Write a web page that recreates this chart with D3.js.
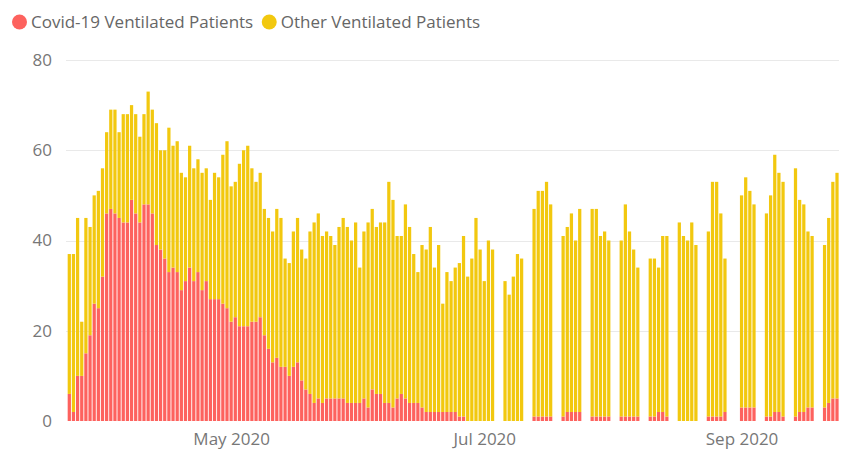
<!DOCTYPE html>
<html>
<head>
<meta charset="utf-8">
<script src="https://cdn.jsdelivr.net/npm/d3@7"></script>
<style>
  html, body { margin: 0; padding: 0; background: #ffffff; }
  svg { display: block; font-family: "Open Sans", "Noto Sans", sans-serif; }
</style>
</head>
<body>
<svg id="chart" width="850" height="450"></svg>
<script>
// Reporting periods (inclusive). Daily through early July, weekdays afterwards.
const reportingPeriods = [
  ["2020-03-23", "2020-07-03"],
  ["2020-07-06", "2020-07-10"],
  ["2020-07-13", "2020-07-17"],
  ["2020-07-20", "2020-07-24"],
  ["2020-07-27", "2020-07-31"],
  ["2020-08-03", "2020-08-07"],
  ["2020-08-10", "2020-08-14"],
  ["2020-08-17", "2020-08-21"],
  ["2020-08-24", "2020-08-28"],
  ["2020-09-01", "2020-09-04"],
  ["2020-09-07", "2020-09-11"],
  ["2020-09-14", "2020-09-18"],
  ["2020-09-21", "2020-09-24"]
];

// Covid-19 ventilated patients, one value per reporting day
const covidVentilated = [
  6, 2, 10, 10, 15, 19, 26, 25, 32, 46,
  47, 46, 45, 44, 44, 49, 46, 44, 48, 48,
  46, 39, 38, 36, 33, 34, 33, 29, 31, 34,
  31, 33, 29, 31, 27, 27, 27, 26, 25, 22,
  23, 21, 21, 21, 22, 22, 23, 19, 16, 13,
  14, 12, 12, 10, 12, 13, 9, 7, 6, 4,
  5, 4, 5, 5, 5, 5, 5, 4, 4, 4,
  4, 5, 3, 7, 6, 6, 4, 4, 3, 5,
  6, 5, 4, 4, 4, 3, 2, 2, 2, 2,
  2, 2, 2, 2, 1, 1, 0, 0, 0, 0,
  0, 0, 0,
  0, 0, 0, 0, 0,
  1, 1, 1, 1, 1,
  1, 2, 2, 2, 2,
  1, 1, 1, 1, 1,
  1, 1, 1, 1, 1,
  1, 1, 2, 2, 1,
  0, 0, 0, 0, 0,
  1, 1, 1, 1, 2,
  3, 3, 3, 3,
  1, 1, 2, 2, 1,
  1, 2, 2, 3, 3,
  3, 4, 5, 5
];

// Other (non-Covid) ventilated patients, one value per reporting day
const otherVentilated = [
  31, 35, 35, 12, 30, 24, 24, 26, 24, 18,
  22, 23, 19, 24, 24, 21, 22, 19, 20, 25,
  23, 27, 22, 24, 32, 27, 29, 26, 23, 27,
  25, 25, 26, 25, 22, 28, 27, 33, 37, 30,
  30, 36, 39, 40, 34, 31, 32, 28, 29, 29,
  33, 33, 24, 25, 30, 32, 29, 29, 36, 40,
  41, 37, 37, 36, 34, 38, 40, 39, 36, 40,
  30, 37, 41, 40, 37, 38, 40, 49, 46, 36,
  35, 43, 39, 33, 29, 36, 36, 41, 32, 37,
  24, 31, 29, 32, 34, 40, 32, 36, 45, 38,
  31, 40, 38,
  31, 28, 32, 37, 36,
  46, 50, 50, 52, 47,
  40, 41, 44, 38, 45,
  46, 46, 40, 41, 39,
  39, 47, 41, 37, 33,
  35, 35, 32, 39, 40,
  44, 41, 40, 44, 39,
  41, 52, 52, 45, 34,
  47, 51, 48, 45,
  45, 49, 57, 53, 52,
  55, 47, 46, 39, 38,
  36, 41, 48, 50
];

const seriesNames = ["Covid-19 Ventilated Patients", "Other Ventilated Patients"];
const seriesColors = ["#FD625E", "#F2C80F"];
const yTicks = [0, 20, 40, 60, 80];
const monthTicks = ["2020-05-01", "2020-07-01", "2020-09-01"];
const axisRange = ["2020-03-22", "2020-09-25"];

// ---- build rows ----
const parse = s => new Date(s + "T00:00:00Z");
const reportDates = reportingPeriods.flatMap(([a, b]) =>
  d3.utcDay.range(parse(a), d3.utcDay.offset(parse(b), 1)));

const rows = reportDates.map((date, i) => ({
  date,
  covid: covidVentilated[i],
  other: otherVentilated[i]
}));

const stacked = d3.stack().keys(["covid", "other"])(rows);

// ---- layout ----
const svg = d3.select("#chart");
const plotLeft = 65.15, plotRight = 841.15;
const plotTop = 60, plotBottom = 421;
const labelFont = "17px";

const x = d3.scaleUtc()
  .domain(axisRange.map(parse))
  .range([plotLeft, plotRight]);

const y = d3.scaleLinear()
  .domain([0, 80])
  .range([plotBottom, plotTop]);

const dayWidth = x(parse("2020-03-24")) - x(parse("2020-03-23"));
const barWidth = dayWidth * 0.78;

// gridlines
svg.append("g")
  .selectAll("line")
  .data(yTicks.filter(v => v > 0))
  .join("line")
  .attr("x1", 66)
  .attr("x2", 839)
  .attr("y1", d => Math.round(y(d)) + 0.5)
  .attr("y2", d => Math.round(y(d)) + 0.5)
  .attr("stroke", "#e9e9e9")
  .attr("stroke-width", 1);

// y axis labels
const yAxis = svg.append("g")
  .attr("transform", `translate(62,0)`)
  .call(d3.axisLeft(y).tickValues(yTicks).tickSize(0).tickPadding(10));
yAxis.select(".domain").remove();
yAxis.selectAll("text")
  .attr("fill", "#777777")
  .style("font-size", labelFont)
  .style("font-family", "\"Open Sans\", sans-serif");

// x axis labels
const xAxis = svg.append("g")
  .attr("transform", `translate(0,${plotBottom})`)
  .call(d3.axisBottom(x)
    .tickValues(monthTicks.map(parse))
    .tickFormat(d3.utcFormat("%b %Y"))
    .tickSize(0)
    .tickPadding(12));
xAxis.select(".domain").remove();
xAxis.selectAll("text")
  .attr("fill", "#777777")
  .style("font-size", labelFont)
  .style("font-family", "\"Open Sans\", sans-serif");

// stacked bars
svg.append("g")
  .selectAll("g")
  .data(stacked)
  .join("g")
  .attr("fill", (d, i) => seriesColors[i])
  .selectAll("rect")
  .data(d => d)
  .join("rect")
  .attr("x", d => x(d.data.date) - barWidth / 2)
  .attr("width", barWidth)
  .attr("y", d => y(d[1]))
  .attr("height", d => Math.max(0, y(d[0]) - y(d[1])));

// legend
const legend = svg.append("g").attr("transform", "translate(0,22)");
let lx = 19.5;
seriesNames.forEach((name, i) => {
  legend.append("circle")
    .attr("cx", lx)
    .attr("cy", 0)
    .attr("r", 7.5)
    .attr("fill", seriesColors[i]);
  const t = legend.append("text")
    .attr("x", lx + 11.5)
    .attr("y", 0)
    .attr("dy", "0.35em")
    .attr("fill", "#666666")
    .style("font-size", labelFont)
    .text(name);
  lx += 11.5 + t.node().getComputedTextLength() + 16;
});
</script>
</body>
</html>
